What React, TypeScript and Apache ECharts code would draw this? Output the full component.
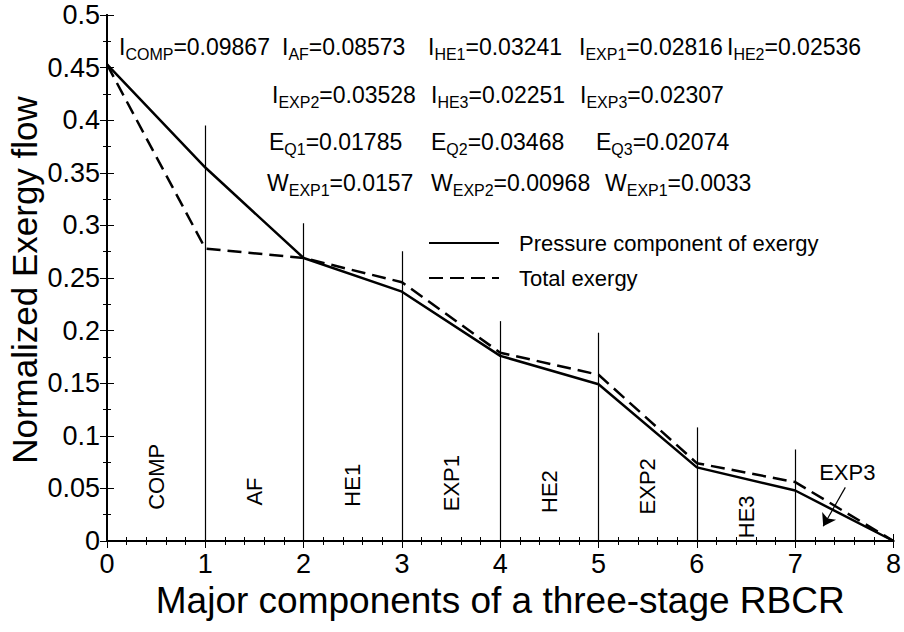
import React, { useEffect, useRef } from "react";
import * as echarts from "echarts";

const stageX = [0, 1, 2, 3, 4, 5, 6, 7, 8];
const pressureExergy = [0.453, 0.355, 0.269, 0.237, 0.176, 0.149, 0.07, 0.048, 0];
const totalExergy = [0.453, 0.278, 0.269, 0.246, 0.179, 0.158, 0.074, 0.056, 0];
const dividerX = [1, 2, 3, 4, 5, 6, 7];
const dividerTops = [0.395, 0.302, 0.2755, 0.209, 0.198, 0.108, 0.087];
const componentNames = ["COMP", "AF", "HE1", "EXP1", "HE2", "EXP2", "HE3"];
const componentLabelX = [0.5, 1.5, 2.5, 3.5, 4.5, 5.5, 6.5];
const componentLabelY = [0.061, 0.047, 0.053, 0.055, 0.047, 0.052, 0.023];
const exp3Label = { name: "EXP3", x: 7.53, y: 0.065 };
const exp3Arrow = { from: [7.51, 0.051], to: [7.285, 0.014] };

// annotation rows: [main, subscript, value]
const annotationRow1 = [
  ["I", "COMP", "=0.09867"],
  ["I", "AF", "=0.08573"],
  ["I", "HE1", "=0.03241"],
  ["I", "EXP1", "=0.02816"],
  ["I", "HE2", "=0.02536"],
];
const annotationRow2 = [
  ["I", "EXP2", "=0.03528"],
  ["I", "HE3", "=0.02251"],
  ["I", "EXP3", "=0.02307"],
];
const annotationRow3 = [
  ["E", "Q1", "=0.01785"],
  ["E", "Q2", "=0.03468"],
  ["E", "Q3", "=0.02074"],
];
const annotationRow4 = [
  ["W", "EXP1", "=0.0157"],
  ["W", "EXP2", "=0.00968"],
  ["W", "EXP1", "=0.0033"],
];

const FONT = "'Liberation Sans', Arial, sans-serif";

export default function App() {
  const ref = useRef<HTMLDivElement>(null);

  useEffect(() => {
    if (!ref.current) return;
    const chart = echarts.init(ref.current, undefined, { renderer: "svg" });

    const rowDefs = [
      { items: annotationRow1, xs: [119, 282, 428, 579, 727], cy: 47 },
      { items: annotationRow2, xs: [272, 431, 580], cy: 95 },
      { items: annotationRow3, xs: [269, 431, 596], cy: 142 },
      { items: annotationRow4, xs: [267, 431, 605], cy: 183 },
    ];
    const annotationGraphics: any[] = [];
    rowDefs.forEach((row) => {
      row.items.forEach((it, i) => {
        annotationGraphics.push({
          type: "text",
          x: row.xs[i],
          y: row.cy - 12,
          silent: true,
          style: {
            text: `{m|${it[0]}}{s|${it[1]}}{m|${it[2]}}`,
            align: "left",
            verticalAlign: "top",
            fill: "#000",
            rich: {
              m: { fontSize: 23, fontFamily: FONT, lineHeight: 24, verticalAlign: "top", fill: "#000" },
              s: { fontSize: 16, fontFamily: FONT, lineHeight: 27, verticalAlign: "bottom", fill: "#000" },
            },
          },
        });
      });
    });

    const axisCommon = {
      axisLine: { show: true, lineStyle: { color: "#000", width: 2 } },
      splitLine: { show: false },
    };
    const tickCommon = {
      axisTick: { show: true, inside: true, length: 7, lineStyle: { color: "#000", width: 1 } },
    };

    const labelSeriesCommon = {
      type: "scatter",
      symbolSize: 1,
      itemStyle: { color: "rgba(0,0,0,0)", opacity: 1 },
      silent: true,
    };
    const labelStyleCommon = {
      show: true,
      position: "inside",
      formatter: "{b}",
      fontSize: 22,
      fontFamily: FONT,
      color: "#000",
      opacity: 1,
      textBorderWidth: 0,
      textBorderColor: "transparent",
    };

    const option: any = {
      animation: false,
      backgroundColor: "#fff",
      grid: { left: 107, right: 10, top: 15, bottom: 91, containLabel: false },
      legend: {
        orient: "vertical",
        left: 423,
        top: 227,
        itemWidth: 70,
        itemHeight: 20,
        itemGap: 13,
        selectedMode: false,
        itemStyle: { opacity: 0 },
        textStyle: { fontSize: 22, fontFamily: FONT, color: "#000", padding: [0, 0, 0, 15] },
        data: ["Pressure component of exergy", "Total exergy"],
      },
      xAxis: [
        {
          type: "value",
          min: 0,
          max: 8,
          interval: 1,
          position: "bottom",
          ...axisCommon,
          ...tickCommon,
          minorTick: { show: true, splitNumber: 5, length: 4, lineStyle: { color: "#000", width: 1 } },
          axisLabel: { fontSize: 27, fontFamily: FONT, color: "#000", margin: 9 },
          name: "Major components of a three-stage RBCR",
          nameLocation: "middle",
          nameGap: 40,
          nameTextStyle: { fontSize: 37, fontFamily: FONT, color: "#000" },
        },
        {
          type: "value",
          min: 0,
          max: 8,
          interval: 1,
          position: "top",
          ...axisCommon,
          ...tickCommon,
          minorTick: { show: true, splitNumber: 5, length: 4, lineStyle: { color: "#000", width: 1 } },
          axisLabel: { show: false },
        },
      ],
      yAxis: [
        {
          type: "value",
          min: 0,
          max: 0.5,
          interval: 0.05,
          position: "left",
          ...axisCommon,
          ...tickCommon,
          minorTick: { show: true, splitNumber: 2, length: 4, lineStyle: { color: "#000", width: 1 } },
          axisLabel: { fontSize: 27, fontFamily: FONT, color: "#000", margin: 7 },
        },
        {
          type: "value",
          min: 0,
          max: 0.5,
          interval: 0.05,
          position: "right",
          ...axisCommon,
          ...tickCommon,
          minorTick: { show: true, splitNumber: 2, length: 4, lineStyle: { color: "#000", width: 1 } },
          axisLabel: { show: false },
        },
      ],
      graphic: [
        {
          type: "text",
          x: 24,
          y: 280,
          rotation: Math.PI / 2,
          silent: true,
          style: {
            text: "Normalized Exergy flow",
            fontSize: 35,
            fontFamily: FONT,
            fill: "#000",
            align: "center",
            verticalAlign: "middle",
          },
        },
        ...annotationGraphics,
      ],
      series: [
        {
          name: "Pressure component of exergy",
          type: "line",
          symbol: "none",
          data: stageX.map((x, i) => [x, pressureExergy[i]]),
          lineStyle: { color: "#000", width: 2.5, type: "solid" },
          itemStyle: { color: "#000" },
          z: 3,
          markLine: {
            silent: true,
            symbol: ["none", "none"],
            label: { show: false },
            lineStyle: { color: "#000", width: 1.2, type: "solid" },
            data: dividerX.map((x, i) => [{ coord: [x, 0] }, { coord: [x, dividerTops[i]] }]),
          },
        },
        {
          name: "Total exergy",
          type: "line",
          symbol: "none",
          data: stageX.map((x, i) => [x, totalExergy[i]]),
          lineStyle: { color: "#000", width: 2.5, type: [14, 7] },
          itemStyle: { color: "#000" },
          z: 3,
          markLine: {
            silent: true,
            symbol: ["none", "arrow"],
            symbolSize: 12,
            label: { show: false },
            itemStyle: { color: "#000" },
            lineStyle: { color: "#000", width: 1.2, type: "solid" },
            data: [[{ coord: exp3Arrow.from }, { coord: exp3Arrow.to }]],
          },
        },
        {
          name: "labels",
          ...labelSeriesCommon,
          label: { ...labelStyleCommon, rotate: 90 },
          data: componentNames.map((n, i) => ({ name: n, value: [componentLabelX[i], componentLabelY[i]] })),
        },
        {
          name: "exp3",
          ...labelSeriesCommon,
          label: { ...labelStyleCommon },
          data: [{ name: exp3Label.name, value: [exp3Label.x, exp3Label.y] }],
        },
      ],
    };

    chart.setOption(option);
    return () => chart.dispose();
  }, []);

  return (
    <div
      ref={ref}
      style={{ position: "fixed", left: 0, top: 0, width: 904, height: 632, background: "#fff" }}
    />
  );
}
